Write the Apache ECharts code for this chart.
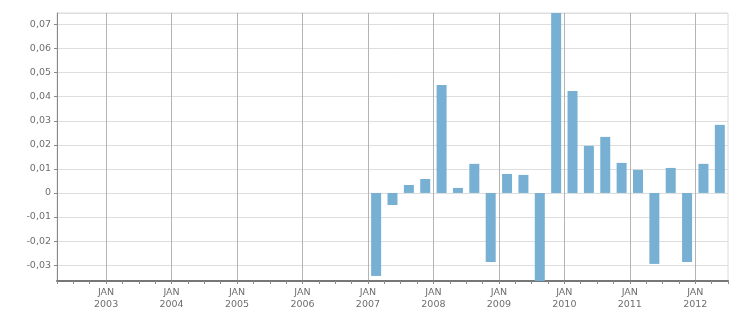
<!DOCTYPE html>
<html>
<head>
<meta charset="utf-8">
<script src="https://cdn.jsdelivr.net/npm/echarts@6/dist/echarts.min.js"></script>
<style>
html,body{margin:0;padding:0;background:#fff;}
#chart{width:751px;height:313px;}
</style>
</head>
<body>
<div id="chart"></div>
<script>
// Quarterly categories, Q2 2002 .. Q2 2012
const categories = [
  '2002-Q2','2002-Q3','2002-Q4',
  '2003-Q1','2003-Q2','2003-Q3','2003-Q4',
  '2004-Q1','2004-Q2','2004-Q3','2004-Q4',
  '2005-Q1','2005-Q2','2005-Q3','2005-Q4',
  '2006-Q1','2006-Q2','2006-Q3','2006-Q4',
  '2007-Q1','2007-Q2','2007-Q3','2007-Q4',
  '2008-Q1','2008-Q2','2008-Q3','2008-Q4',
  '2009-Q1','2009-Q2','2009-Q3','2009-Q4',
  '2010-Q1','2010-Q2','2010-Q3','2010-Q4',
  '2011-Q1','2011-Q2','2011-Q3','2011-Q4',
  '2012-Q1','2012-Q2'
];
const values = [
  null,null,null,
  null,null,null,null,
  null,null,null,null,
  null,null,null,null,
  null,null,null,null,
  -0.0345,-0.0050,0.0033,0.0058,
  0.0449,0.0021,0.0121,-0.0287,
  0.0079,0.0075,-0.0366,0.0748,
  0.0424,0.0196,0.0233,0.0125,
  0.0096,-0.0295,0.0104,-0.0287,
  0.0121,0.0283
];
// Quarter boundaries (tick positions), Apr 2002 .. Jul 2012
const quarterStartMonths = {Q1:'JAN',Q2:'APR',Q3:'JUL',Q4:'OCT'};
const boundaries = categories.map(c => {
  const [y,q] = c.split('-');
  return quarterStartMonths[q] + '\n' + y;
});
boundaries.push('JUL\n2012');

const FONT = 'DejaVu Sans';
const chart = echarts.init(document.getElementById('chart'));
chart.setOption({
  animation:false,
  backgroundColor:'#ffffff',
  grid:{left:57,right:23,top:13,bottom:32,show:true,borderColor:'#dcdcdc',borderWidth:1,backgroundColor:'transparent'},
  xAxis:[
    {
      type:'category',
      data:categories,
      boundaryGap:true,
      axisLine:{show:false},
      axisTick:{show:false},
      axisLabel:{show:false},
      splitLine:{show:false}
    },
    {
      type:'category',
      data:boundaries,
      boundaryGap:false,
      position:'bottom',
      axisLine:{show:true,lineStyle:{color:'#777',width:2}},
      axisTick:{show:true,interval:0,length:3,lineStyle:{color:'#888'}},
      axisLabel:{
        interval:(i,v)=>v.startsWith('JAN'),
        color:'#6e6e6e',fontFamily:FONT,fontSize:9.5,lineHeight:12,margin:6
      },
      splitLine:{show:true,interval:(i,v)=>v.startsWith('JAN'),lineStyle:{color:'#b4b4b4',width:1}}
    }
  ],
  yAxis:{
    type:'value',
    min:'dataMin',
    max:'dataMax',
    splitNumber:11,
    axisLine:{show:true,lineStyle:{color:'#8a8a8a',width:1}},
    axisTick:{show:true,length:3,lineStyle:{color:'#8a8a8a'}},
    axisLabel:{
      showMinLabel:false,showMaxLabel:false,
      color:'#6e6e6e',fontFamily:FONT,fontSize:9.5,margin:6,
      formatter:v=>{
        const r = Math.round(v*100);
        if (Math.abs(v*100 - r) > 1e-6) return '';
        if (r === 0) return '0';
        return (r/100).toFixed(2).replace('.',',');
      }
    },
    splitLine:{show:true,lineStyle:{color:'#dedede',width:1}}
  },
  series:[{
    type:'bar',
    xAxisIndex:0,
    data:values,
    barWidth:10,
    itemStyle:{color:'#78b0d3'}
  }]
});
</script>
</body>
</html>
